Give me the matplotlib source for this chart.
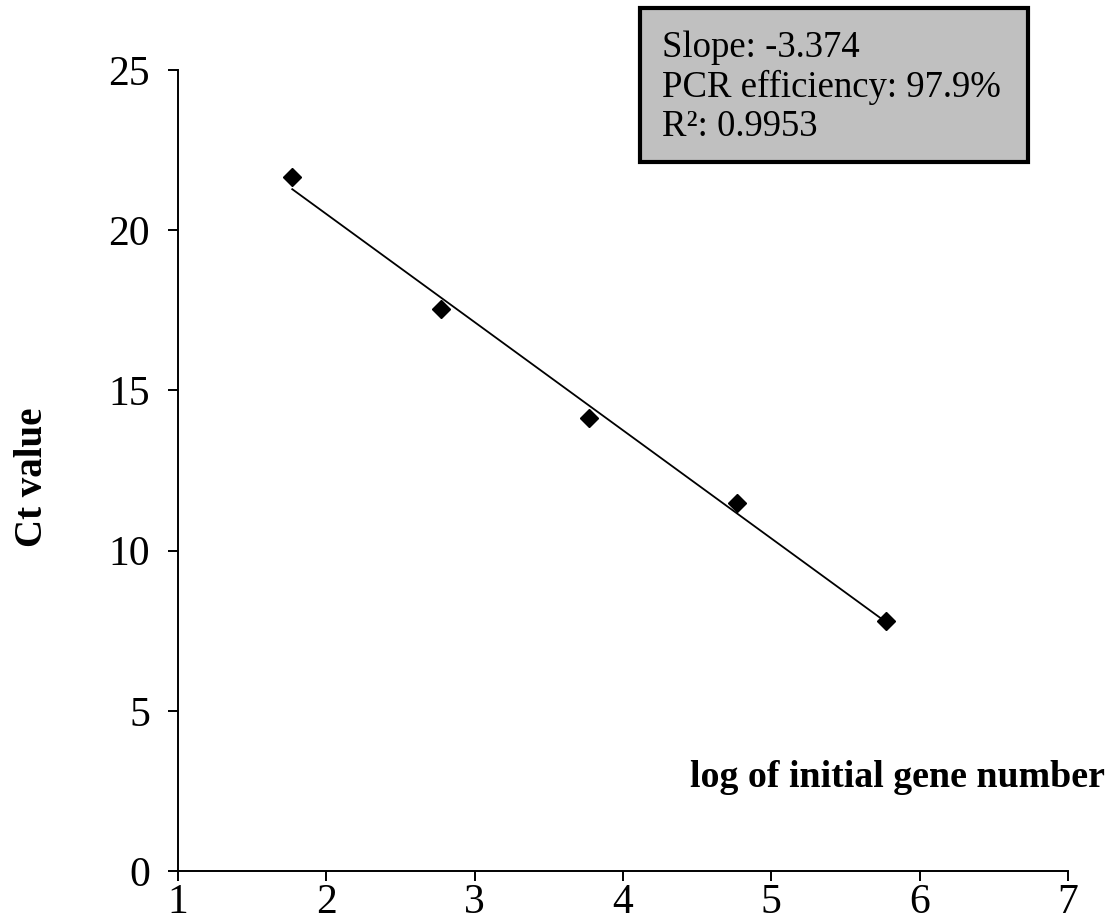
import numpy as np
import matplotlib
matplotlib.use("Agg")
from matplotlib import pyplot as plt
from matplotlib.patches import Rectangle

# standard curve points
log_gene_number = [1.77, 2.77, 3.77, 4.77, 5.77]
ct_value = [21.65, 17.55, 14.15, 11.5, 7.8]

slope_text = "Slope: -3.374"
eff_text = "PCR efficiency: 97.9%"
r2_text = "R\u00b2: 0.9953"

plt.rcParams['font.family'] = ['Liberation Serif', 'DejaVu Serif']

fig = plt.figure(figsize=(11.17, 9.21), dpi=100)
ax = fig.add_axes([0.1594, 0.0543, 0.7967, 0.8697])

ax.plot(log_gene_number, ct_value, linestyle='none', marker='D', markersize=9,
        color='black')

# linear trend line like the spreadsheet one
coef = np.polyfit(log_gene_number, ct_value, 1)
xs = np.array([log_gene_number[0], log_gene_number[-1]])
ax.plot(xs, np.polyval(coef, xs), color='black', linewidth=1.3)

ax.set_xlim(1, 7)
ax.set_ylim(0, 25)
ax.set_xticks(range(1, 8))
ax.set_yticks(range(0, 26, 5))
for side in ['top', 'right']:
  ax.spines[side].set_visible(False)
for side in ['left', 'bottom']:
  ax.spines[side].set_linewidth(1.4)
ax.tick_params(direction='out', length=7.2, width=1.4, labelsize=30)
ax.tick_params(axis='y', pad=13)
ax.tick_params(axis='x', pad=1.5)

fig.text(32 / 1117, 1 - 477 / 921, "Ct value", rotation=90, fontsize=28,
         fontweight='bold', ha='center', va='center')
fig.text(1105 / 1117, 1 - 777 / 921, "log of initial gene number", fontsize=27.3,
         fontweight='bold', ha='right', va='center')

box = Rectangle((640 / 1117, 1 - 162 / 921), 388 / 1117, 154 / 921,
                transform=fig.transFigure, facecolor='#c0c0c0',
                edgecolor='black', linewidth=3)
fig.patches.append(box)
fig.text(662 / 1117, 1 - 87 / 921, slope_text + "\n" + eff_text + "\n" + r2_text,
         fontsize=26.5, ha='left', va='center', linespacing=1.17)

fig.savefig("out.png", dpi=100)
